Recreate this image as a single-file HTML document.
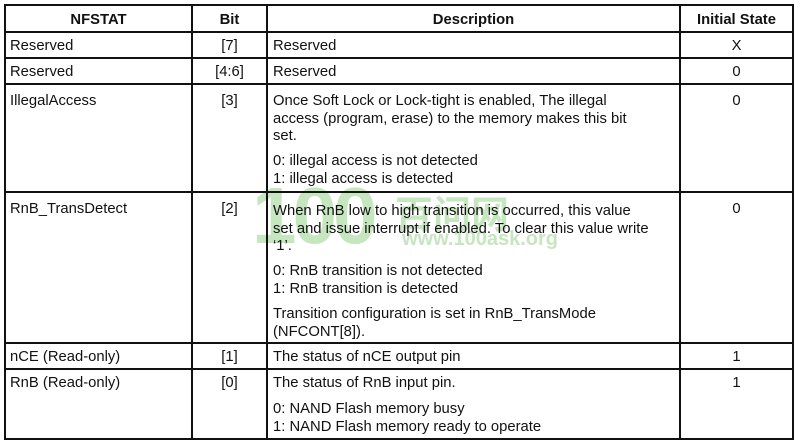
<!DOCTYPE html>
<html><head><meta charset="utf-8"><style>
body{margin:0;width:800px;height:445px;background:#fff;position:relative;overflow:hidden;font-family:"Liberation Sans",Arial,sans-serif;font-size:14.8px;color:#111}
.h{position:absolute;background:#111;height:2px}
.v{position:absolute;background:#111;width:2px}
.t{position:absolute;line-height:16px;white-space:nowrap;margin-top:1px}
.c{text-align:center}
.b{font-weight:bold}
.wm{position:absolute;color:#c6e6bf;font-weight:bold;white-space:nowrap}
</style></head><body>
<div class="wm" style="left:252px;top:170px;font-size:80px;letter-spacing:-4px;">100</div>
<div class="wm" style="left:395px;top:184px;font-size:38px;font-family:'Noto Sans CJK SC',sans-serif;">百问网</div>
<div class="wm" style="left:402px;top:228px;font-size:20px;">www.100ask.org</div>

<div class="h" style="left:4px;top:4px;width:790px"></div>
<div class="h" style="left:4px;top:31px;width:790px"></div>
<div class="h" style="left:4px;top:57px;width:790px"></div>
<div class="h" style="left:4px;top:83px;width:790px"></div>
<div class="h" style="left:4px;top:191px;width:790px"></div>
<div class="h" style="left:4px;top:342px;width:790px"></div>
<div class="h" style="left:4px;top:368px;width:790px"></div>
<div class="h" style="left:4px;top:438px;width:790px"></div>
<div class="v" style="left:4px;top:4px;height:436px"></div>
<div class="v" style="left:191px;top:4px;height:436px"></div>
<div class="v" style="left:266px;top:4px;height:436px"></div>
<div class="v" style="left:679px;top:4px;height:436px"></div>
<div class="v" style="left:792px;top:4px;height:436px"></div>

<div class="t b c" style="left:6px;width:185px;top:11px">NFSTAT</div>
<div class="t b c" style="left:193px;width:73px;top:11px">Bit</div>
<div class="t b c" style="left:268px;width:411px;top:11px">Description</div>
<div class="t b c" style="left:681px;width:111px;top:11px">Initial State</div>

<div class="t" style="left:10px;top:37px">Reserved</div>
<div class="t c" style="left:193px;width:73px;top:37px">[7]</div>
<div class="t" style="left:273px;top:37px">Reserved</div>
<div class="t c" style="left:681px;width:111px;top:37px">X</div>

<div class="t" style="left:10px;top:63px">Reserved</div>
<div class="t c" style="left:193px;width:73px;top:63px">[4:6]</div>
<div class="t" style="left:273px;top:63px">Reserved</div>
<div class="t c" style="left:681px;width:111px;top:63px">0</div>

<div class="t" style="left:10px;top:92px">IllegalAccess</div>
<div class="t c" style="left:193px;width:73px;top:92px">[3]</div>
<div class="t" style="left:273px;top:92px">Once Soft Lock or Lock-tight is enabled, The illegal</div>
<div class="t" style="left:273px;top:110px">access (program, erase) to the memory makes this bit</div>
<div class="t" style="left:273px;top:127px">set.</div>
<div class="t" style="left:273px;top:152px">0: illegal access is not detected</div>
<div class="t" style="left:273px;top:170px">1: illegal access is detected</div>
<div class="t c" style="left:681px;width:111px;top:92px">0</div>

<div class="t" style="left:10px;top:200px">RnB_TransDetect</div>
<div class="t c" style="left:193px;width:73px;top:200px">[2]</div>
<div class="t" style="left:273px;top:202px">When RnB low to high transition is occurred, this value</div>
<div class="t" style="left:273px;top:220px">set and issue interrupt if enabled. To clear this value write</div>
<div class="t" style="left:273px;top:237px">‘1’.</div>
<div class="t" style="left:273px;top:262px">0: RnB transition is not detected</div>
<div class="t" style="left:273px;top:280px">1: RnB transition is detected</div>
<div class="t" style="left:273px;top:305px">Transition configuration is set in RnB_TransMode</div>
<div class="t" style="left:273px;top:323px">(NFCONT[8]).</div>
<div class="t c" style="left:681px;width:111px;top:200px">0</div>

<div class="t" style="left:10px;top:348px">nCE (Read-only)</div>
<div class="t c" style="left:193px;width:73px;top:348px">[1]</div>
<div class="t" style="left:273px;top:348px">The status of nCE output pin</div>
<div class="t c" style="left:681px;width:111px;top:348px">1</div>

<div class="t" style="left:10px;top:374px">RnB (Read-only)</div>
<div class="t c" style="left:193px;width:73px;top:374px">[0]</div>
<div class="t" style="left:273px;top:374px">The status of RnB input pin.</div>
<div class="t" style="left:273px;top:400px">0: NAND Flash memory busy</div>
<div class="t" style="left:273px;top:418px">1: NAND Flash memory ready to operate</div>
<div class="t c" style="left:681px;width:111px;top:374px">1</div>
</body></html>
